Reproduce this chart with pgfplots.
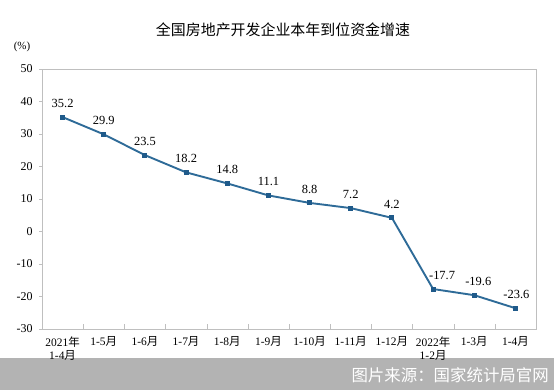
\documentclass[border=0pt]{standalone}
\usepackage{pgfplots}
\pgfplotsset{compat=1.18}
\usepackage{fontspec}
\setmainfont{Liberation Serif}
\newfontfamily\cjk{Noto Sans CJK SC}
\definecolor{lineblue}{HTML}{2E6B98}
\definecolor{markblue}{HTML}{1F5A8A}
\definecolor{framegray}{HTML}{BFBFBF}
\definecolor{bandgray}{HTML}{B3B3B3}
\begin{document}
\begin{tikzpicture}[x=1bp,y=1bp]
\path[use as bounding box, fill=white] (0,0) rectangle (554,390);
\fill[bandgray] (0,0) rectangle (554,32);
\node[anchor=east, text=white, font=\cjk\fontsize{16.5}{17}\selectfont, inner sep=0pt] at (549,15) {图片来源：国家统计局官网};
\node[font=\cjk\fontsize{15}{16}\selectfont, inner sep=0pt] at (283,360) {全国房地产开发企业本年到位资金增速};
\node[font=\fontsize{11}{12}\selectfont, inner sep=0pt] at (22,343) {(\%)};
\begin{axis}[
  at={(42bp,61bp)}, anchor=south west,
  scale only axis, width=494bp, height=260bp,
  xmin=-0.5, xmax=11.5, ymin=-30, ymax=50,
  ytick={-30,-20,...,50},
  yticklabels={-30,-20,-10,0,10,20,30,40,50},
  xtick={0,...,11},
  xticklabels={{2021{\cjk 年}\\1-4{\cjk 月}},1-5{\cjk 月},1-6{\cjk 月},1-7{\cjk 月},1-8{\cjk 月},1-9{\cjk 月},1-10{\cjk 月},1-11{\cjk 月},1-12{\cjk 月},{2022{\cjk 年}\\1-2{\cjk 月}},1-3{\cjk 月},1-4{\cjk 月}},
  x tick label style={align=center, font=\fontsize{11.5}{13}\selectfont, yshift=-4bp},
  y tick label style={font=\fontsize{12}{13}\selectfont, xshift=-3bp},
  minor xtick={0.5,1.5,...,10.5},
  xtick pos=bottom, ytick pos=left,
  major x tick style={draw=none},
  minor x tick style={framegray},
  minor tick length=5bp,
  xtick align=inside,
  ytick align=outside,
  y tick style={framegray},
  major tick length=3bp,
  axis line style={framegray},
  /pgf/number format/assume math mode=true,
  point meta=explicit symbolic,
  nodes near coords,
  every node near coord/.append style={font=\fontsize{12.5}{13}\selectfont, anchor=south, yshift=6bp, text=black},
  clip=false,
]
\addplot[color=lineblue, line width=1.9pt, mark=square*, mark size=2pt, mark options={fill=markblue, draw=markblue, line width=0pt}]
coordinates {
(0,35.2) [35.2]
(1,29.9) [29.9]
(2,23.5) [23.5]
(3,18.2) [18.2]
(4,14.8) [14.8]
(5,11.1) [11.1]
(6,8.8) [8.8]
(7,7.2) [7.2]
(8,4.2) [4.2]
(9,-17.7) [\hspace*{18bp}-17.7]
(10,-19.6) [\hspace*{8bp}-19.6]
(11,-23.6) [\hspace*{2bp}-23.6]
};
\end{axis}
\end{tikzpicture}
\end{document}
